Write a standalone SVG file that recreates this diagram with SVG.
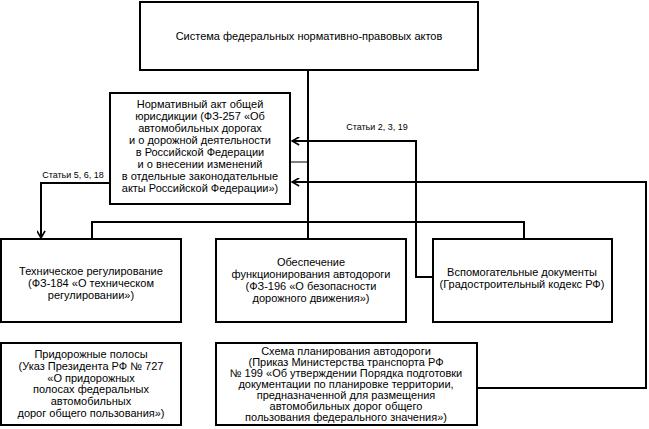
<svg xmlns="http://www.w3.org/2000/svg" width="649" height="429" viewBox="0 0 649 429">
<style>
.box{fill:#fff;stroke:#000;stroke-width:2}
.t{font-family:"Liberation Sans",Arial,sans-serif;font-size:11px;fill:#000;text-anchor:middle}
.lbl{font-family:"Liberation Sans",Arial,sans-serif;font-size:9px;fill:#000;text-anchor:middle}
.c{fill:none;stroke:#000;stroke-width:2}
.thin{fill:none;stroke:#000;stroke-width:1}
</style>
<defs>
<marker id="arr" viewBox="0 0 10 10" refX="9" refY="5" markerWidth="9" markerHeight="9" markerUnits="userSpaceOnUse" orient="auto">
<path d="M1,0.5 L9,5 L1,9.5" fill="none" stroke="#000" stroke-width="1.8"/>
</marker>
</defs>
<rect width="649" height="429" fill="#fff"/>
<g id="connectors">
<path class="c" d="M308,70 V239"/>
<path class="c" d="M92,239 V222 H524 V239"/>
<path class="thin" d="M290,162 H308"/>
<path class="c" d="M433,277 H416 V141 H292" marker-end="url(#arr)"/>
<path class="c" d="M477,388 H646 V182 H292" marker-end="url(#arr)"/>
<path class="c" d="M110,183 H41 V238" marker-end="url(#arr)"/>
<text class="lbl" x="377" y="130">Статьи 2, 3, 19</text>
<text class="lbl" x="73" y="178">Статьи 5, 6, 18</text>
</g>
<g id="system">
<rect class="box" x="140" y="2" width="338" height="68"/>
<text class="t" x="309" y="40">Система федеральных нормативно-правовых актов</text>
</g>
<g id="normact">
<rect class="box" x="110" y="93" width="180" height="111"/>
<text class="t" x="200" y="108">Нормативный акт общей</text>
<text class="t" x="200" y="120">юрисдикции (ФЗ-257 «Об</text>
<text class="t" x="200" y="132">автомобильных дорогах</text>
<text class="t" x="200" y="144">и о дорожной деятельности</text>
<text class="t" x="200" y="156">в Российской Федерации</text>
<text class="t" x="200" y="168">и о внесении изменений</text>
<text class="t" x="200" y="180">в отдельные законодательные</text>
<text class="t" x="200" y="192">акты Российской Федерации»)</text>
</g>
<g id="tech">
<rect class="box" x="1" y="239" width="180" height="83"/>
<text class="t" x="91" y="275">Техническое регулирование</text>
<text class="t" x="91" y="287">(ФЗ-184 «О техническом</text>
<text class="t" x="91" y="299">регулировании»)</text>
</g>
<g id="ensure">
<rect class="box" x="216" y="239" width="190" height="83"/>
<text class="t" x="311" y="266">Обеспечение</text>
<text class="t" x="311" y="278">функционирования автодороги</text>
<text class="t" x="311" y="290">(ФЗ-196 «О безопасности</text>
<text class="t" x="311" y="302">дорожного движения»)</text>
</g>
<g id="aux">
<rect class="box" x="433" y="239" width="179" height="83"/>
<text class="t" x="522" y="276">Вспомогательные документы</text>
<text class="t" x="522" y="288">(Градостроительный кодекс РФ)</text>
</g>
<g id="roadside">
<rect class="box" x="1" y="343" width="180" height="82"/>
<text class="t" x="91" y="358">Придорожные полосы</text>
<text class="t" x="91" y="370">(Указ Президента РФ № 727</text>
<text class="t" x="91" y="382">«О придорожных</text>
<text class="t" x="91" y="393">полосах федеральных</text>
<text class="t" x="91" y="405">автомобильных</text>
<text class="t" x="91" y="417">дорог общего пользования»)</text>
</g>
<g id="scheme">
<rect class="box" x="216" y="343" width="261" height="82"/>
<text class="t" x="346" y="355">Схема планирования автодороги</text>
<text class="t" x="346" y="366">(Приказ Министерства транспорта РФ</text>
<text class="t" x="346" y="377">№ 199 «Об утверждении Порядка подготовки</text>
<text class="t" x="346" y="388">документации по планировке территории,</text>
<text class="t" x="346" y="399">предназначенной для размещения</text>
<text class="t" x="346" y="410">автомобильных дорог общего</text>
<text class="t" x="346" y="421">пользования федерального значения»)</text>
</g>
</svg>
